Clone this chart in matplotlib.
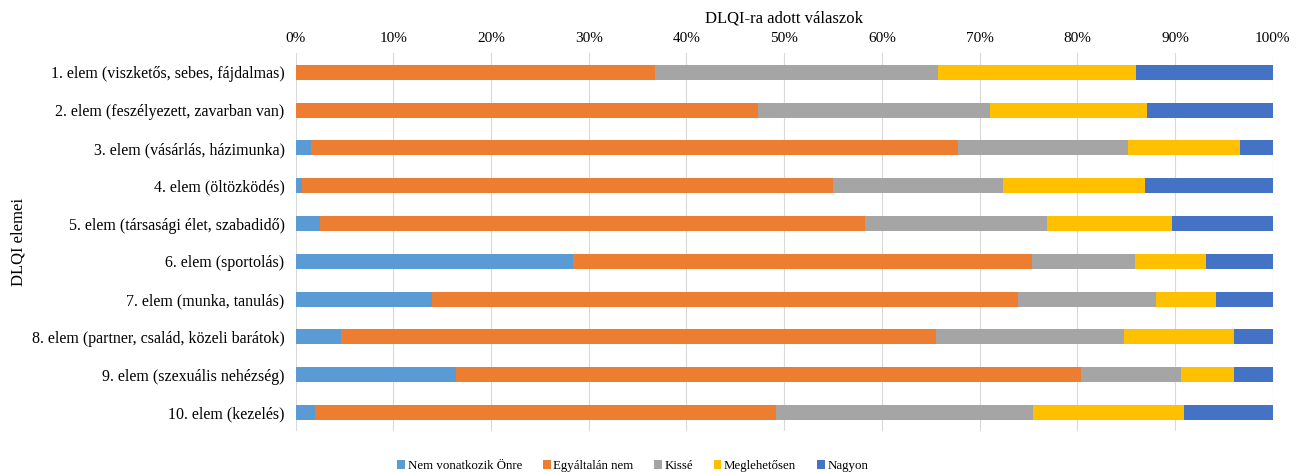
import numpy as np
import matplotlib.pyplot as plt
from matplotlib.ticker import PercentFormatter

plt.rcParams['font.family'] = ['Liberation Serif', 'DejaVu Serif']

items = ['1. elem (viszketős, sebes, fájdalmas)',
         '2. elem (feszélyezett, zavarban van)',
         '3. elem (vásárlás, házimunka)',
         '4. elem (öltözködés)',
         '5. elem (társasági élet, szabadidő)',
         '6. elem (sportolás)',
         '7. elem (munka, tanulás)',
         '8. elem (partner, család, közeli barátok)',
         '9. elem (szexuális nehézség)',
         '10. elem (kezelés)']

answers = ['Nem vonatkozik Önre', 'Egyáltalán nem', 'Kissé', 'Meglehetősen', 'Nagyon']
colors = ['#5B9BD5', '#ED7D31', '#A5A5A5', '#FFC000', '#4472C4']

# share of answers (%) per DLQI item
nem_vonatkozik = [0.0, 0.0, 1.6, 0.6, 2.5, 28.4, 14.0, 4.6, 16.4, 2.0]
egyaltalan_nem = [36.8, 47.3, 66.2, 54.4, 55.8, 47.0, 59.9, 60.9, 64.0, 47.2]
kisse = [28.9, 23.8, 17.4, 17.4, 18.6, 10.5, 14.2, 19.3, 10.2, 26.3]
meglehetosen = [20.3, 16.0, 11.5, 14.5, 12.8, 7.3, 6.1, 11.2, 5.4, 15.4]
nagyon = [14.0, 12.9, 3.3, 13.1, 10.3, 6.8, 5.8, 4.0, 4.0, 9.1]

series = [nem_vonatkozik, egyaltalan_nem, kisse, meglehetosen, nagyon]

fig = plt.figure(figsize=(13.06, 4.73), dpi=100)
ax = fig.add_axes([0.2264, 0.088, 0.7481, 0.799])

y = np.arange(len(items))
left = np.zeros(len(items))
for vals, name, c in zip(series, answers, colors):
    vals = np.array(vals)
    ax.barh(y, vals, left=left, height=0.4, color=c, label=name, zorder=3)
    left += vals

ax.set_xlim(0, 100)
ax.set_ylim(len(items) - 0.5, -0.5)
ax.set_yticks(y)
ax.set_yticklabels(items, fontsize=11.5)
ax.set_xticks(np.arange(0, 101, 10))
ax.xaxis.set_major_formatter(PercentFormatter(decimals=0))
ax.xaxis.tick_top()
ax.xaxis.set_label_position('top')
ax.tick_params(axis='x', labelsize=11, length=0, pad=6)
ax.tick_params(axis='y', length=0, pad=8)
ax.grid(axis='x', color='#D9D9D9', linewidth=0.8, zorder=0)
for s in ax.spines.values():
    s.set_visible(False)

ax.set_xlabel('DLQI-ra adott válaszok', fontsize=12, labelpad=7)
ax.set_ylabel('DLQI elemei', fontsize=12, labelpad=4)

ax.legend(loc='upper center', bbox_to_anchor=(0.345, -0.045), ncol=5, frameon=False,
          fontsize=9.3, handlelength=0.6, handleheight=0.6, handletextpad=0.2,
          columnspacing=1.6)

fig.savefig('out.png', dpi=100, facecolor='white')
